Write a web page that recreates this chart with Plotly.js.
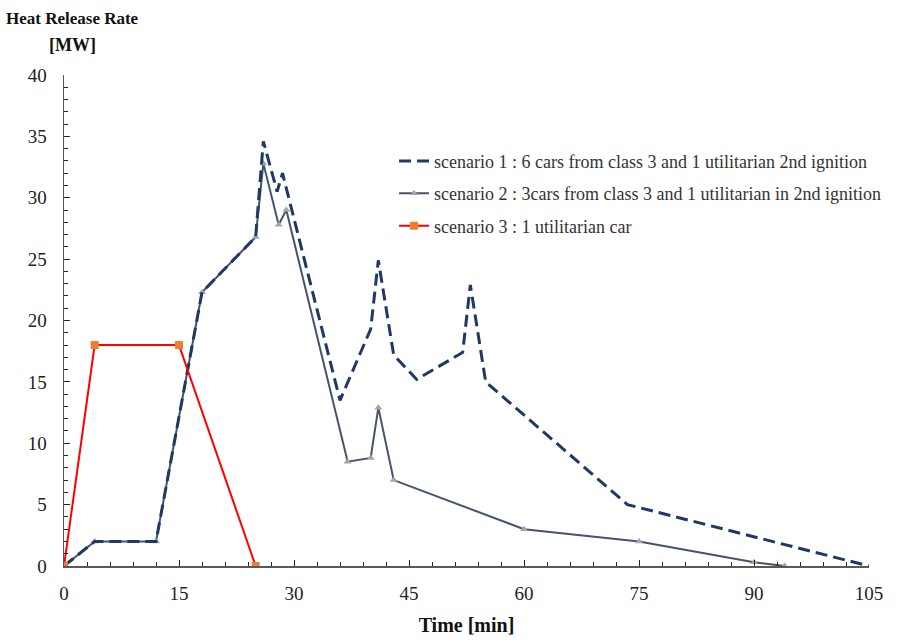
<!DOCTYPE html>
<html><head><meta charset="utf-8">
<script src="https://cdn.plot.ly/plotly-3.0.1.min.js"></script>
<style>body{margin:0;background:#fff}#chart{width:899px;height:643px}</style>
</head><body><div id="chart"></div>
<script>
// Scenario 1: 6 cars from class 3 and 1 utilitarian 2nd ignition
const s1Time = [0, 4, 12, 18, 25, 26, 27.8, 28.5, 36, 40, 41, 43, 46, 52, 53, 55, 73.5, 105];
const s1HRR  = [0, 2, 2, 22.3, 26.8, 34.6, 30.5, 32, 13.5, 19.3, 24.9, 17.2, 15.2, 17.4, 22.9, 15, 5, 0];
// Scenario 2: 3cars from class 3 and 1 utilitarian in 2nd ignition
const s2Time = [0, 4, 12, 18, 25, 26, 28, 29, 37, 40, 41, 43, 60, 75, 90, 94];
const s2HRR  = [0, 2, 2, 22.3, 26.8, 32.8, 27.8, 29, 8.5, 8.8, 12.9, 7, 3, 2, 0.3, 0];
// Scenario 3: 1 utilitarian car
const s3Time = [0, 4, 15, 25];
const s3HRR  = [0, 18, 18, 0];
const names = [
  'scenario 1 : 6 cars from class 3 and 1 utilitarian 2nd ignition',
  'scenario 2 : 3cars from class 3 and 1 utilitarian in 2nd ignition',
  'scenario 3 : 1 utilitarian car'
];
const xTicks = [0, 15, 30, 45, 60, 75, 90, 105];
const yTicks = [0, 5, 10, 15, 20, 25, 30, 35, 40];

const serif = 'Liberation Serif, Times New Roman, serif';
const traces = [
  {x: s2Time, y: s2HRR, name: names[1], legendrank: 2, legendgroup: 'g2', mode: 'lines+markers', type: 'scatter',
   line: {color: '#44546A', width: 2},
   marker: {symbol: 'triangle-up', size: 7, color: '#A5A5A5'}},
  {x: s1Time, y: s1HRR, name: names[0], legendrank: 1, legendgroup: 'g1', mode: 'lines', type: 'scatter',
   line: {color: '#1F3864', width: 3, dash: '12px,6px'}},
  {x: s3Time, y: s3HRR, name: names[2], legendrank: 3, legendgroup: 'g3', mode: 'lines+markers', type: 'scatter',
   line: {color: '#FF0000', width: 2},
   marker: {symbol: 'square', size: 8, color: '#ED7D31'}}
];

const layout = {
  width: 899, height: 643,
  margin: {l: 64, r: 30, t: 75, b: 77, autoexpand: false},
  paper_bgcolor: '#fff', plot_bgcolor: '#fff',
  showlegend: true,
  legend: {x: 0.41, y: 0.862, xanchor: 'left', yanchor: 'top',
    font: {family: serif, size: 18, color: '#333'},
    bgcolor: 'rgba(0,0,0,0)', traceorder: 'grouped', tracegroupgap: 6},
  xaxis: {range: [0, 105], tickvals: xTicks, ticktext: xTicks.map(String),
    showgrid: false, zeroline: false, showline: true, linecolor: '#595959', linewidth: 1.5,
    ticks: 'inside', ticklen: 6, tickcolor: '#262626', ticklabelstandoff: 10,
    minor: {dtick: 3, tick0: 0, ticks: 'inside', ticklen: 4, tickcolor: '#262626', showgrid: false},
    tickfont: {family: serif, size: 19, color: '#222'},
    title: {text: 'Time [min]', standoff: 14,
      font: {family: serif, size: 20, color: '#111', weight: 'bold'}}},
  yaxis: {range: [0, 40], tickvals: yTicks, ticktext: yTicks.map(String),
    showgrid: false, zeroline: false, showline: true, linecolor: '#595959', linewidth: 1.5,
    ticks: 'inside', ticklen: 6, tickcolor: '#262626', ticklabelstandoff: 12,
    minor: {dtick: 1, tick0: 0, ticks: 'inside', ticklen: 4, tickcolor: '#262626', showgrid: false},
    tickfont: {family: serif, size: 19, color: '#222'}},
  annotations: [
    {xref: 'paper', yref: 'paper', x: 0.01, y: 1.116, xanchor: 'center', yanchor: 'middle',
     text: '<b>Heat Release Rate</b>', showarrow: false,
     font: {family: serif, size: 17, color: '#111'}},
    {xref: 'paper', yref: 'paper', x: 0.01, y: 1.061, xanchor: 'center', yanchor: 'middle',
     text: '<b>[MW]</b>', showarrow: false,
     font: {family: serif, size: 18, color: '#111'}}
  ]
};
Plotly.newPlot('chart', traces, layout, {displayModeBar: false, staticPlot: true});
</script></body></html>
